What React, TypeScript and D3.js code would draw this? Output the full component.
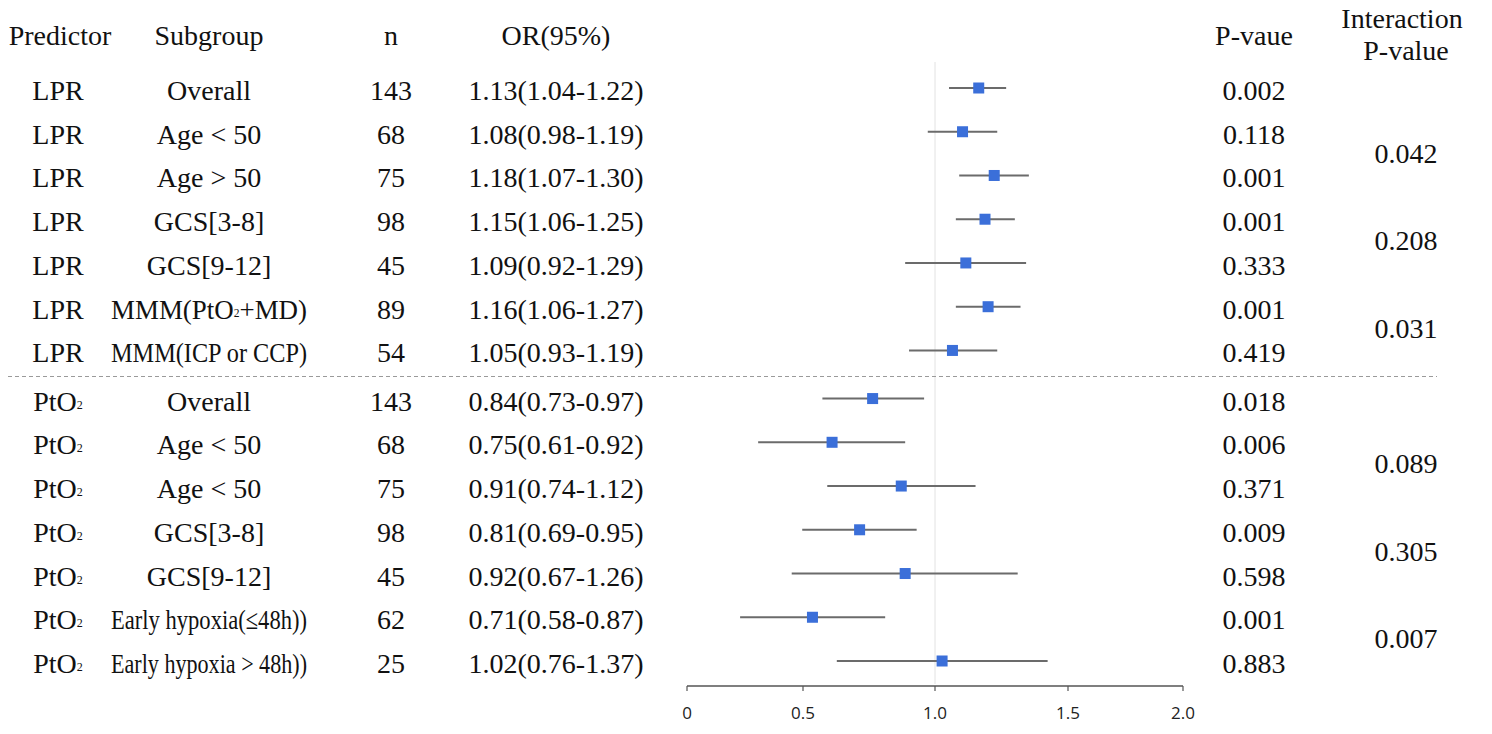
import React, { useRef, useEffect } from "react";
import * as d3 from "d3";

const predictors = [
  "LPR", "LPR", "LPR", "LPR", "LPR", "LPR", "LPR",
  "PtO2", "PtO2", "PtO2", "PtO2", "PtO2", "PtO2", "PtO2",
];
const subgroups = [
  "Overall", "Age < 50", "Age > 50", "GCS[3-8]", "GCS[9-12]", "MMM(PtO2+MD)", "MMM(ICP or CCP)",
  "Overall", "Age < 50", "Age < 50", "GCS[3-8]", "GCS[9-12]", "Early hypoxia(≤48h))", "Early hypoxia > 48h))",
];
const ns = [143, 68, 75, 98, 45, 89, 54, 143, 68, 75, 98, 45, 62, 25];
const ors = [1.13, 1.08, 1.18, 1.15, 1.09, 1.16, 1.05, 0.84, 0.75, 0.91, 0.81, 0.92, 0.71, 1.02];
const lowers = [1.04, 0.98, 1.07, 1.06, 0.92, 1.06, 0.93, 0.73, 0.61, 0.74, 0.69, 0.67, 0.58, 0.76];
const uppers = [1.22, 1.19, 1.3, 1.25, 1.29, 1.27, 1.19, 0.97, 0.92, 1.12, 0.95, 1.26, 0.87, 1.37];
const pValues = [
  "0.002", "0.118", "0.001", "0.001", "0.333", "0.001", "0.419",
  "0.018", "0.006", "0.371", "0.009", "0.598", "0.001", "0.883",
];
const interactionP = ["0.042", "0.208", "0.031", "0.089", "0.305", "0.007"];
const interactionRows = [[1, 2], [3, 4], [5, 6], [8, 9], [10, 11], [12, 13]];
const axisTicks = [0, 0.5, 1.0, 1.5, 2.0];

const W = 1492;
const H = 734;
const FONT = "'Liberation Serif', 'Times New Roman', serif";

export default function App() {
  const svgRef = useRef<SVGSVGElement>(null);

  useEffect(() => {
    if (!svgRef.current) return;
    const svg = d3.select(svgRef.current);
    svg.selectAll("*").remove();

    // plot area (log scale, 0.5 - 2)
    const x = d3.scaleLog().domain([0.5, 2]).range([687, 1183]);
    // printed axis labels sit at these spots
    const xAxis = d3.scaleLinear().domain(axisTicks).range([687, 803, 935, 1068, 1183]);
    // rows, with a small gap between the two predictors
    const rowIdx = (i: number) => i + (i >= 7 ? 0.1 : 0);
    const y = d3.scaleLinear().domain([0, 13.1]).range([90, 663]);

    const cols = { pred: 58, sub: 209, n: 391, or: 556, p: 1254, inter: 1406 };

    const addText = (
      g: d3.Selection<any, unknown, null, undefined>,
      tx: number,
      ty: number,
      txt: string,
      maxW = 0
    ) => {
      const t = g
        .append("text")
        .attr("x", tx)
        .attr("y", ty)
        .attr("text-anchor", "middle")
        .attr("dominant-baseline", "central")
        .style("font-family", FONT)
        .style("font-size", "28px")
        .style("fill", "#111");
      // PtO2 -> subscript 2
      const parts = txt.split("PtO2");
      let shift = 0;
      parts.forEach((part, k) => {
        if (part) {
          const s = t.append("tspan").text(part);
          if (shift) s.attr("dy", shift);
          shift = 0;
        }
        if (k < parts.length - 1) {
          const s = t.append("tspan").text("PtO");
          if (shift) s.attr("dy", shift);
          t.append("tspan").attr("dy", 4).style("font-size", "12px").text("2");
          shift = -4;
        }
      });
      if (maxW) {
        const len = (t.node() as SVGTextElement).getComputedTextLength();
        if (len > maxW) t.attr("textLength", maxW).attr("lengthAdjust", "spacingAndGlyphs");
      }
      return t;
    };

    const root = svg.append("g");

    // header
    addText(root, 60, 35, "Predictor");
    addText(root, cols.sub, 35, "Subgroup");
    addText(root, cols.n, 35, "n");
    addText(root, cols.or, 35, "OR(95%)");
    addText(root, cols.p, 35, "P-vaue");
    addText(root, 1402, 18, "Interaction");
    addText(root, cols.inter, 50, "P-value");

    // reference line at OR = 1
    root
      .append("line")
      .attr("x1", x(1))
      .attr("x2", x(1))
      .attr("y1", 62)
      .attr("y2", 684)
      .attr("stroke", "#e2e2e2")
      .attr("stroke-width", 1);

    // separator
    const sepY = (y(rowIdx(6)) + y(rowIdx(7))) / 2;
    root
      .append("line")
      .attr("x1", 8)
      .attr("x2", 1437)
      .attr("y1", sepY)
      .attr("y2", sepY)
      .attr("stroke", "#9a9a9a")
      .attr("stroke-width", 1)
      .attr("stroke-dasharray", "4,3");

    // table rows and marks
    subgroups.forEach((sg, i) => {
      const cy = y(rowIdx(i));
      addText(root, cols.pred, cy, predictors[i]);
      addText(root, cols.sub, cy, sg, 196);
      addText(root, cols.n, cy, String(ns[i]));
      addText(
        root,
        cols.or,
        cy,
        `${ors[i].toFixed(2)}(${lowers[i].toFixed(2)}-${uppers[i].toFixed(2)})`
      );
      addText(root, cols.p, cy, pValues[i]);

      root
        .append("line")
        .attr("x1", x(lowers[i]))
        .attr("x2", x(uppers[i]))
        .attr("y1", cy - 2)
        .attr("y2", cy - 2)
        .attr("stroke", "#6b6b6b")
        .attr("stroke-width", 2);

      root
        .append("rect")
        .attr("x", x(ors[i]) - 5.5)
        .attr("y", cy - 7.5)
        .attr("width", 11)
        .attr("height", 11)
        .attr("fill", "#3b6fd9");
    });

    // interaction p-values
    interactionP.forEach((v, k) => {
      const [a, b] = interactionRows[k];
      const cy = (y(rowIdx(a)) + y(rowIdx(b))) / 2 - 3;
      addText(root, cols.inter, cy, v);
    });

    // x axis
    const axisY = 686;
    root
      .append("line")
      .attr("x1", xAxis(0))
      .attr("x2", xAxis(2))
      .attr("y1", axisY)
      .attr("y2", axisY)
      .attr("stroke", "#555")
      .attr("stroke-width", 1.5);

    axisTicks.forEach((t) => {
      root
        .append("line")
        .attr("x1", xAxis(t))
        .attr("x2", xAxis(t))
        .attr("y1", axisY)
        .attr("y2", axisY + 5)
        .attr("stroke", "#555")
        .attr("stroke-width", 1.2);
      root
        .append("text")
        .attr("x", xAxis(t))
        .attr("y", 712)
        .attr("text-anchor", "middle")
        .attr("dominant-baseline", "central")
        .attr("font-family", "'Open Sans', 'DejaVu Sans', sans-serif")
        .attr("font-size", 17)
        .attr("fill", "#222")
        .text(t === 0 ? "0" : t.toFixed(1));
    });
  }, []);

  return (
    <svg
      ref={svgRef}
      width={W}
      height={H}
      viewBox={`0 0 ${W} ${H}`}
      style={{ position: "absolute", left: 0, top: 0, background: "#fff" }}
    />
  );
}
